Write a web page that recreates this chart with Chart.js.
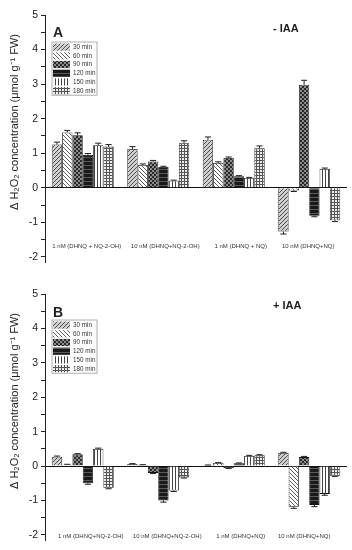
<!DOCTYPE html>
<html>
<head>
<meta charset="utf-8">
<script src="https://cdn.jsdelivr.net/npm/chart.js@4/dist/chart.umd.min.js"></script>
<style>
  html, body { margin: 0; padding: 0; background: #fff; }
  .panel { position: absolute; left: 0; width: 352px; }
  #panelA { top: 0; height: 275px; }
  #panelB { top: 279px; height: 271px; }
</style>
</head>
<body>
<div class="panel" id="panelA"><canvas id="chartA"></canvas></div>
<div class="panel" id="panelB"><canvas id="chartB"></canvas></div>
<script>
// ---------- DATA ----------
const seriesNames = ['30 min', '60 min', '90 min', '120 min', '150 min', '180 min'];
const categoriesA = ['1 nM (DHNQ + NQ-2-OH)', '10 nM (DHNQ+NQ-2-OH)', '1 nM (DHNQ + NQ)', '10 nM (DHNQ+NQ)'];
const categoriesB = ['1 nM (DHNQ+NQ-2-OH)', '10 nM (DHNQ+NQ-2-OH)', '1 nM (DHNQ+NQ)', '10 nM (DHNQ+NQ)'];
const yTicks = [-2, -1, 0, 1, 2, 3, 4, 5];
const yTitle = 'Δ H₂O₂ concentration (μmol g⁻¹ FW)';

// panel A (- IAA), one row per time point, one value per treatment
const valuesA = [
  [1.25, 1.12, 1.39, -1.27],
  [1.60, 0.66, 0.72, -0.08],
  [1.52, 0.76, 0.86, 2.98],
  [0.95, 0.60, 0.33, -0.81],
  [1.23, 0.20, 0.28, 0.54],
  [1.19, 1.29, 1.14, -0.94]
];
const errorsA = [
  [0.07, 0.07, 0.08, 0.07],
  [0.06, 0.03, 0.03, 0.03],
  [0.07, 0.03, 0.03, 0.13],
  [0.04, 0.02, 0.02, 0.03],
  [0.06, 0.02, 0.02, 0.03],
  [0.06, 0.07, 0.07, 0.04]
];

// panel B (+ IAA)
const valuesB = [
  [0.27, 0.06, 0.02, 0.38],
  [0.04, 0.03, 0.09, -1.18],
  [0.34, -0.20, -0.06, 0.26],
  [-0.50, -1.00, 0.08, -1.13],
  [0.50, -0.71, 0.29, -0.81],
  [-0.63, -0.33, 0.31, -0.28]
];
const errorsB = [
  [0.02, 0.01, 0.01, 0.02],
  [0.01, 0.01, 0.01, 0.05],
  [0.02, 0.02, 0.01, 0.02],
  [0.03, 0.05, 0.01, 0.05],
  [0.02, 0.03, 0.02, 0.04],
  [0.03, 0.02, 0.02, 0.02]
];

// ---------- PATTERNS ----------
const makePattern = kind => {
  const c = document.createElement('canvas');
  const s = (kind >= 4) ? 3 : 4;
  c.width = c.height = s;
  const g = c.getContext('2d');
  g.lineWidth = 1;
  if (kind === 0) {            // forward diagonal on light grey
    g.fillStyle = '#cfcfcf'; g.fillRect(0, 0, s, s);
    g.strokeStyle = '#505050';
    g.beginPath(); g.moveTo(0, s); g.lineTo(s, 0); g.moveTo(-1, 1); g.lineTo(1, -1); g.moveTo(s - 1, s + 1); g.lineTo(s + 1, s - 1); g.stroke();
  } else if (kind === 1) {     // back diagonal on white
    g.fillStyle = '#fff'; g.fillRect(0, 0, s, s);
    g.strokeStyle = '#606060';
    g.beginPath(); g.moveTo(0, 0); g.lineTo(s, s); g.moveTo(-1, s - 1); g.lineTo(1, s + 1); g.moveTo(s - 1, -1); g.lineTo(s + 1, 1); g.stroke();
  } else if (kind === 2) {     // dark checker
    g.fillStyle = '#8a8a8a'; g.fillRect(0, 0, s, s);
    g.fillStyle = '#2a2a2a'; g.fillRect(0, 0, 2, 2); g.fillRect(2, 2, 2, 2);
  } else if (kind === 3) {     // black with horizontal lines
    g.fillStyle = '#1a1a1a'; g.fillRect(0, 0, s, s);
    g.fillStyle = '#5a5a5a'; g.fillRect(0, 1, s, 1);
  } else if (kind === 4) {     // vertical lines on white
    g.fillStyle = '#fff'; g.fillRect(0, 0, s, s);
    g.fillStyle = '#444'; g.fillRect(1, 0, 1, s);
  } else {                     // grid
    g.fillStyle = '#eee'; g.fillRect(0, 0, s, s);
    g.fillStyle = '#555'; g.fillRect(0, 1, s, 1); g.fillRect(1, 0, 1, s);
  }
  return g.createPattern(c, 'repeat');
};
const patterns = seriesNames.map((n, i) => makePattern(i));

// ---------- PLUGINS ----------
const errorBars = {
  id: 'errorBars',
  afterDatasetsDraw(chart) {
    const { ctx } = chart;
    const y = chart.scales.y;
    const errs = chart.options.plugins.errorBars.errors;
    ctx.save();
    ctx.strokeStyle = '#222';
    ctx.lineWidth = 1;
    chart.data.datasets.forEach((ds, di) => {
      chart.getDatasetMeta(di).data.forEach((bar, i) => {
        const v = ds.data[i];
        const e = errs[di][i];
        const end = y.getPixelForValue(v >= 0 ? v + e : v - e);
        const half = bar.width * 0.3;
        ctx.beginPath();
        ctx.moveTo(bar.x, bar.y);
        ctx.lineTo(bar.x, end);
        ctx.moveTo(bar.x - half, end);
        ctx.lineTo(bar.x + half, end);
        ctx.stroke();
      });
    });
    ctx.restore();
  }
};

const decorations = {
  id: 'decorations',
  afterDraw(chart) {
    const o = chart.options.plugins.decorations;
    const { ctx, chartArea } = chart;
    const x = chart.scales.x, y = chart.scales.y;
    const font = '"Liberation Sans", Arial, sans-serif';
    ctx.save();
    // y axis title
    ctx.save();
    ctx.translate(15, chartArea.top + o.titleDy);
    ctx.rotate(-Math.PI / 2);
    ctx.textAlign = 'center';
    ctx.textBaseline = 'middle';
    ctx.fillStyle = '#222';
    ctx.font = '11px ' + font;
    ctx.fillText(yTitle, 0, 0);
    ctx.restore();
    // panel letter and condition
    ctx.fillStyle = '#222';
    ctx.textBaseline = 'alphabetic';
    ctx.font = 'bold 14px ' + font;
    ctx.textAlign = 'left';
    ctx.fillText(o.letter, chartArea.left + 8, chartArea.top + o.letterDy);
    ctx.font = 'bold 11px ' + font;
    ctx.fillText(o.condition, 273, chartArea.top + o.condDy);
    // category labels inside the plot
    ctx.font = '6px ' + font;
    ctx.textAlign = 'center';
    ctx.textBaseline = 'middle';
    ctx.fillStyle = '#333';
    o.labels.forEach((lab, i) => {
      ctx.fillText(lab, x.getPixelForValue(i) + o.labelDx[i], y.getPixelForValue(o.labelY));
    });
    // legend box
    const lx = chartArea.left + 7, ly = chartArea.top + o.legendDy, row = 8.7;
    ctx.strokeStyle = '#999';
    ctx.lineWidth = 0.8;
    ctx.strokeRect(lx, ly, 45, row * 6 + 1);
    ctx.textAlign = 'left';
    ctx.font = '6.3px ' + font;
    chart.data.datasets.forEach((ds, i) => {
      const ry = ly + 1 + i * row;
      ctx.fillStyle = ds.backgroundColor;
      ctx.fillRect(lx + 1, ry + 0.5, 17, row - 1.5);
      ctx.fillStyle = '#333';
      ctx.fillText(ds.label, lx + 21, ry + row / 2);
    });
    ctx.restore();
  }
};

// ---------- CHARTS ----------
const buildChart = (id, categories, values, errors, deco) => new Chart(document.getElementById(id), {
  type: 'bar',
  data: {
    labels: categories,
    datasets: seriesNames.map((name, i) => ({
      label: name,
      data: values[i],
      backgroundColor: patterns[i],
      borderColor: '#111',
      borderWidth: 0.8,
      categoryPercentage: 0.82,
      barPercentage: 1
    }))
  },
  options: {
    responsive: true,
    maintainAspectRatio: false,
    animation: false,
    layout: { padding: { top: 15, right: 5, bottom: deco.padBottom, left: 0 } },
    scales: {
      x: { display: false },
      y: {
        min: -2.15,
        max: 5,
        afterFit: s => { s.width = 45; },
        afterBuildTicks: s => {
          const t = [];
          for (let v = -2; v <= 5; v += 0.5) t.push({ value: v });
          s.ticks = t;
        },
        ticks: {
          padding: 3,
          color: '#222',
          font: { family: '"Liberation Sans", Arial, sans-serif', size: 10.5 },
          callback: v => yTicks.includes(v) ? String(v) : ''
        },
        grid: {
          color: c => (c.tick && c.tick.value === 0) ? '#111' : 'rgba(0,0,0,0)',
          tickColor: '#222',
          tickLength: 4,
          lineWidth: 1
        },
        border: { display: true, color: '#222', width: 1 }
      }
    },
    plugins: {
      legend: { display: false },
      tooltip: { enabled: false },
      errorBars: { errors },
      decorations: deco
    }
  },
  plugins: [errorBars, decorations]
});

buildChart('chartA', categoriesA, valuesA, errorsA, {
  letter: 'A', condition: '- IAA', letterDy: 22, condDy: 17, legendDy: 27, titleDy: 107,
  labels: categoriesA, labelY: -1.71, labelDx: [4, 7, 7, -1], padBottom: 13
});
buildChart('chartB', categoriesB, valuesB, errorsB, {
  letter: 'B', condition: '+ IAA', letterDy: 23, condDy: 15, legendDy: 26, titleDy: 107,
  labels: categoriesB, labelY: -2.03, labelDx: [8, 9, 7, -5], padBottom: 10
});
</script>
</body>
</html>
